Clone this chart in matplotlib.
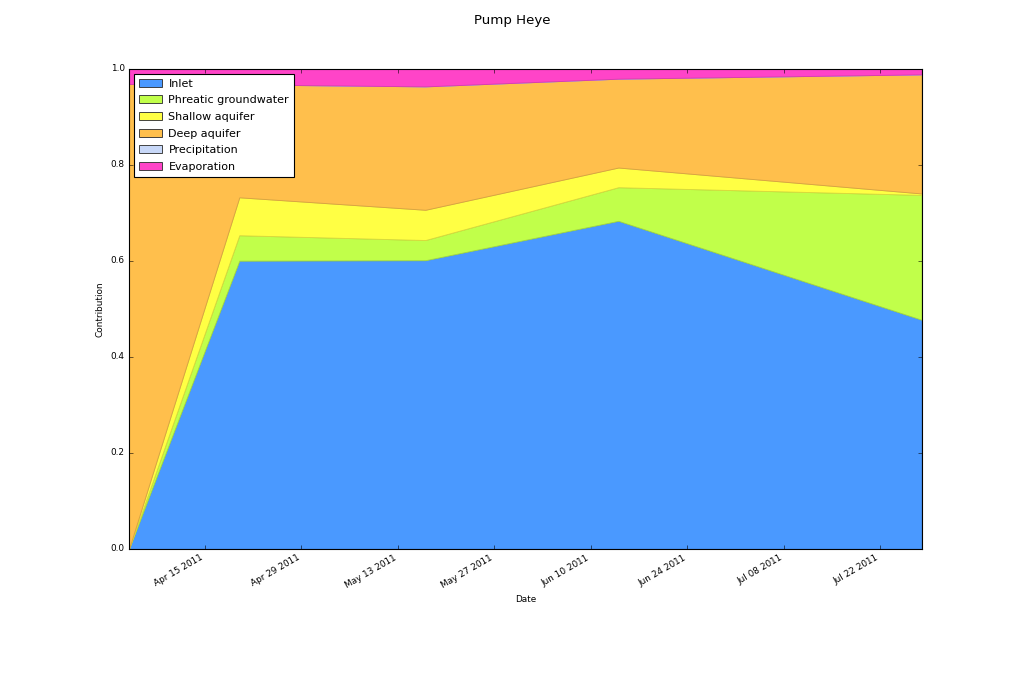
import matplotlib
matplotlib.use("Agg")
import matplotlib.pyplot as plt
import matplotlib.dates as mdates
from matplotlib.patches import Rectangle
import pandas as pd

plt.style.use('classic')

dates = pd.to_datetime(["2011-04-04", "2011-04-20", "2011-05-17", "2011-06-14", "2011-07-28"])
inlet = [0.0, 0.600, 0.601, 0.683, 0.477]
phreatic = [0.0, 0.053, 0.042, 0.070, 0.260]
shallow = [0.0, 0.079, 0.063, 0.041, 0.003]
deep = [0.968, 0.235, 0.257, 0.185, 0.248]
precipitation = [0.0, 0.0, 0.0, 0.0, 0.0]
evaporation = [0.032, 0.033, 0.037, 0.021, 0.012]

labels = ["Inlet", "Phreatic groundwater", "Shallow aquifer", "Deep aquifer",
          "Precipitation", "Evaporation"]
colors = ["#4A99FF", "#C1FF4A", "#FFFF44", "#FFBF4C", "#C8D8F8", "#FF44C8"]
edges = ["#3F82D9", "#A4D93F", "#D9D93A", "#D9A241", "#AAB8D3", "#D93AAA"]
tick_dates = pd.date_range("2011-04-15", periods=8, freq="14D")

fig = plt.figure(figsize=(12.8, 8.575), dpi=80)
ax = fig.add_subplot(111)
fig.subplots_adjust(left=0.126, right=0.9, top=0.9, bottom=0.2)

polys = ax.stackplot(dates, inlet, phreatic, shallow, deep, precipitation, evaporation,
                     colors=colors)
for p, ec in zip(polys, edges):
    p.set_edgecolor(ec)
    p.set_linewidth(0.8)

ax.set_xlim(dates[0], dates[-1])
ax.set_ylim(0, 1.0)
ax.set_xticks(tick_dates)
ax.xaxis.set_major_formatter(mdates.DateFormatter("%b %d %Y"))
ax.set_yticks([0.0, 0.2, 0.4, 0.6, 0.8, 1.0])
ax.yaxis.set_major_formatter(matplotlib.ticker.FormatStrFormatter("%.1f"))
ax.tick_params(labelsize=8)
for lab in ax.get_xticklabels():
    lab.set_rotation(30)
    lab.set_ha("right")

ax.set_xlabel("Date", fontsize=8)
ax.set_ylabel("Contribution", fontsize=8)
fig.suptitle("Pump Heye", fontsize=12, y=0.98)

handles = [Rectangle((0, 0), 1, 1, facecolor=c, edgecolor="#333333", linewidth=0.8)
           for c in colors]
ax.legend(handles, labels, loc="upper left", fontsize=10, fancybox=False,
          borderaxespad=0.45, handlelength=2.1, labelspacing=0.6,
          handletextpad=0.55, borderpad=0.45)

fig.savefig("out.png", dpi=80)
